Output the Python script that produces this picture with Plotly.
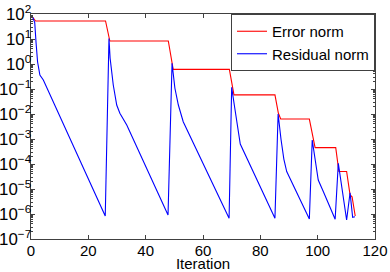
import plotly.graph_objects as go

# Error norm (red)
error_iter = [0.6, 1.6, 26.0, 27.5, 47.9, 49.6, 69.2, 70.8, 85.1, 86.3, 87.1,
              97.1, 99.1, 106.3, 107.4, 110.1, 111.3, 112.0, 113.1]
error_norm = [74.1, 52.5, 52.5, 8.3, 8.3, 0.61, 0.61, 0.058, 0.058, 0.0107, 0.0063,
              0.0063, 4.5e-4, 4.5e-4, 5.0e-5, 5.0e-5, 5.8e-6, 4.9e-6, 8.3e-7]

# Residual norm (blue)
resid_iter = [0.6, 1.3, 1.75, 2.3, 3.1, 4.3, 25.9,
              27.2, 27.6, 28.7, 29.9, 31.0, 33.4, 47.8,
              49.2, 50.2, 51.4, 53.1, 69.1,
              70.0, 71.0, 72.0, 73.0, 85.1,
              86.2, 87.2, 88.2, 89.2, 97.1,
              98.1, 99.1, 100.2, 102.0, 106.1,
              107.2, 108.4, 110.1,
              111.3, 112.2, 113.0]
resid_norm = [74.1, 45.7, 7.41, 1.20, 0.363, 0.229, 8.3e-7,
              10.5, 1.70, 0.145, 0.0229, 0.0107, 3.63e-3, 9.1e-7,
              1.07, 0.107, 0.0229, 4.9e-3, 6.8e-7,
              0.117, 0.02, 3.16e-3, 6.3e-4, 6.8e-7,
              0.01, 1e-3, 1.58e-4, 5.0e-5, 6.3e-7,
              9.1e-4, 1.45e-4, 2.29e-5, 7.8e-6, 6.2e-7,
              1.07e-4, 1.23e-5, 5.75e-7,
              7.1e-6, 7.4e-7, 7.8e-7]

series_names = ["Error norm", "Residual norm"]
x_title = "Iteration"
y_alias = {"1": "10<sup>0</sup>", "10": "10<sup>1</sup>"}

axis_col = "#404040"
fig = go.Figure()
fig.add_trace(go.Scatter(x=error_iter, y=error_norm, mode="lines", name=series_names[0],
                         line=dict(color="#ff0000", width=1.1)))
fig.add_trace(go.Scatter(x=resid_iter, y=resid_norm, mode="lines", name=series_names[1],
                         line=dict(color="#0000ff", width=1.1)))

fig.update_layout(
    width=390, height=272,
    margin=dict(l=31, r=15, t=14, b=33),
    plot_bgcolor="white", paper_bgcolor="white",
    font=dict(family="Liberation Sans, Arial, Helvetica, sans-serif", size=15, color="black"),
    showlegend=True,
    legend=dict(x=1, y=1, xanchor="right", yanchor="top", bordercolor=axis_col,
                borderwidth=1, bgcolor="white", font=dict(size=15), tracegroupgap=0,
                itemwidth=30),
)
fig.update_xaxes(range=[0, 120], tick0=0, dtick=20, ticks="inside", ticklen=4,
                 tickcolor=axis_col, mirror="ticks", showline=True, linecolor=axis_col,
                 linewidth=1, showgrid=False, zeroline=False, automargin=False,
                 tickfont=dict(size=15), ticklabelstandoff=-2,
                 title=dict(text=x_title, standoff=0, font=dict(size=15)))
fig.update_yaxes(type="log", range=[-7, 2], dtick=1, exponentformat="power",
                 labelalias=y_alias, ticks="inside", ticklen=4, tickcolor=axis_col,
                 tickfont=dict(size=13.5), ticklabelstandoff=-4,
                 minor=dict(ticks="inside", ticklen=2, dtick="D1", tickcolor=axis_col,
                            showgrid=False),
                 mirror="ticks", showline=True, linecolor=axis_col, linewidth=1,
                 showgrid=False, zeroline=False, automargin=False)

fig.write_html("out.html", config={"displayModeBar": False},
               post_script="document.body.style.margin='0';document.body.style.overflow='hidden';")
